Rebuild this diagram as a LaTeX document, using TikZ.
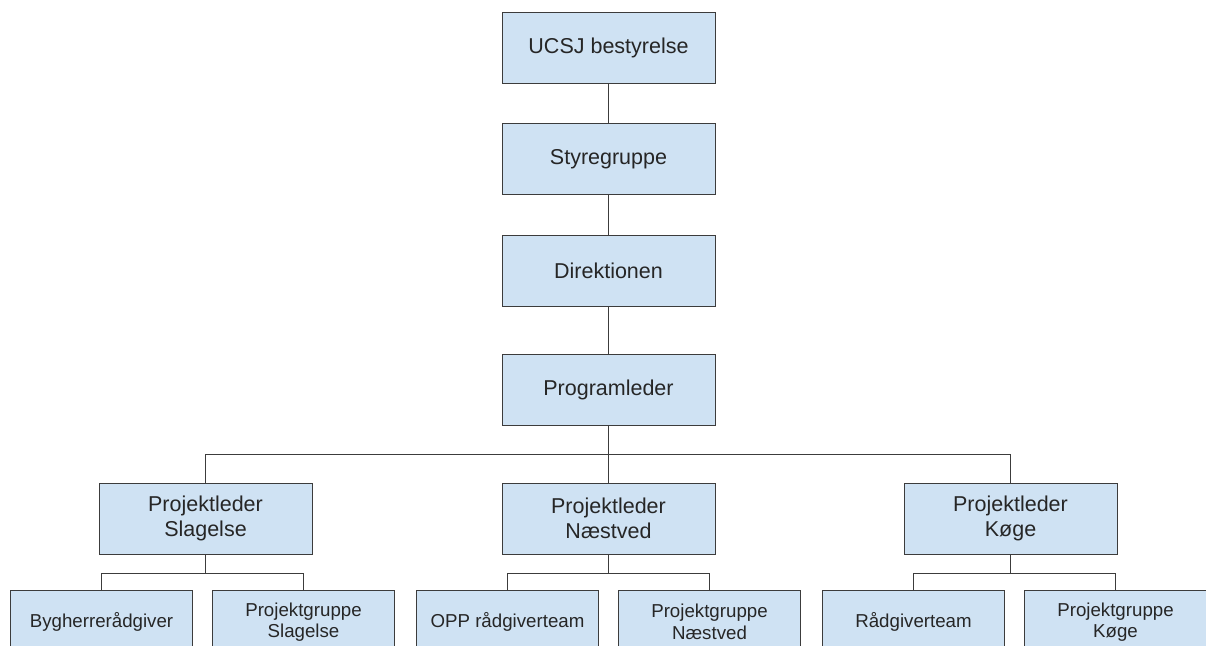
\documentclass[tikz,border=0pt]{standalone}
\usepackage{fontspec}
\setmainfont{Liberation Sans}
\definecolor{boxfill}{HTML}{CFE2F3}
\definecolor{boxline}{HTML}{3C3C3C}
\begin{document}
\begin{tikzpicture}[x=1pt,y=-1pt,
  orgbox/.style={draw=boxline,fill=boxfill,line width=1pt,inner sep=0pt,align=center,
     minimum width=213pt,minimum height=71pt,font=\fontsize{21.5}{25}\selectfont,text=black!85},
  smallbox/.style={orgbox,minimum width=182pt,minimum height=64pt,font=\fontsize{18.7}{21.5}\selectfont},
  link/.style={draw=boxline,line width=1pt}]
\useasboundingbox (0,0) rectangle (1206,645);
\clip (0,0) rectangle (1206,645);
\fill[white] (0,0) rectangle (1206,645);
\node[orgbox] (ucsj) at (608.5,47.5) {UCSJ bestyrelse};
\node[orgbox] (sty) at (608.5,159) {Styregruppe};
\node[orgbox] (dir) at (608.5,271) {Direktionen};
\node[orgbox] (prog) at (608.5,390) {Programleder};
\node[orgbox] (pls) at (205.5,518.5) {Projektleder\\Slagelse};
\node[orgbox] (pln) at (608.5,518.5) {Projektleder\\Næstved};
\node[orgbox] (plk) at (1010.5,518.5) {Projektleder\\Køge};
\node[smallbox] (byg) at (101.5,622) {Bygherrerådgiver};
\node[smallbox] (pgs) at (303.5,622) {Projektgruppe\\Slagelse};
\node[smallbox] (opp) at (507.5,622) {OPP rådgiverteam};
\node[smallbox] (pgn) at (709.5,622) {Projektgruppe\\Næstved};
\node[smallbox] (rad) at (913.5,622) {Rådgiverteam};
\node[smallbox] (pgk) at (1115.5,622) {Projektgruppe\\Køge};
\draw[link] (ucsj.south) -- (sty.north);
\draw[link] (sty.south) -- (dir.north);
\draw[link] (dir.south) -- (prog.north);
\coordinate (bar) at (608.5,454.5);
\draw[link] (prog.south) -- (pln.north);
\draw[link] (pls.north) |- (bar) -| (plk.north);
\coordinate (bs) at (205.5,573.5);
\coordinate (bn) at (608.5,573.5);
\coordinate (bk) at (1010.5,573.5);
\draw[link] (pls.south) -- (bs);
\draw[link] (byg.north) |- (bs) -| (pgs.north);
\draw[link] (pln.south) -- (bn);
\draw[link] (opp.north) |- (bn) -| (pgn.north);
\draw[link] (plk.south) -- (bk);
\draw[link] (rad.north) |- (bk) -| (pgk.north);
\end{tikzpicture}
\end{document}
